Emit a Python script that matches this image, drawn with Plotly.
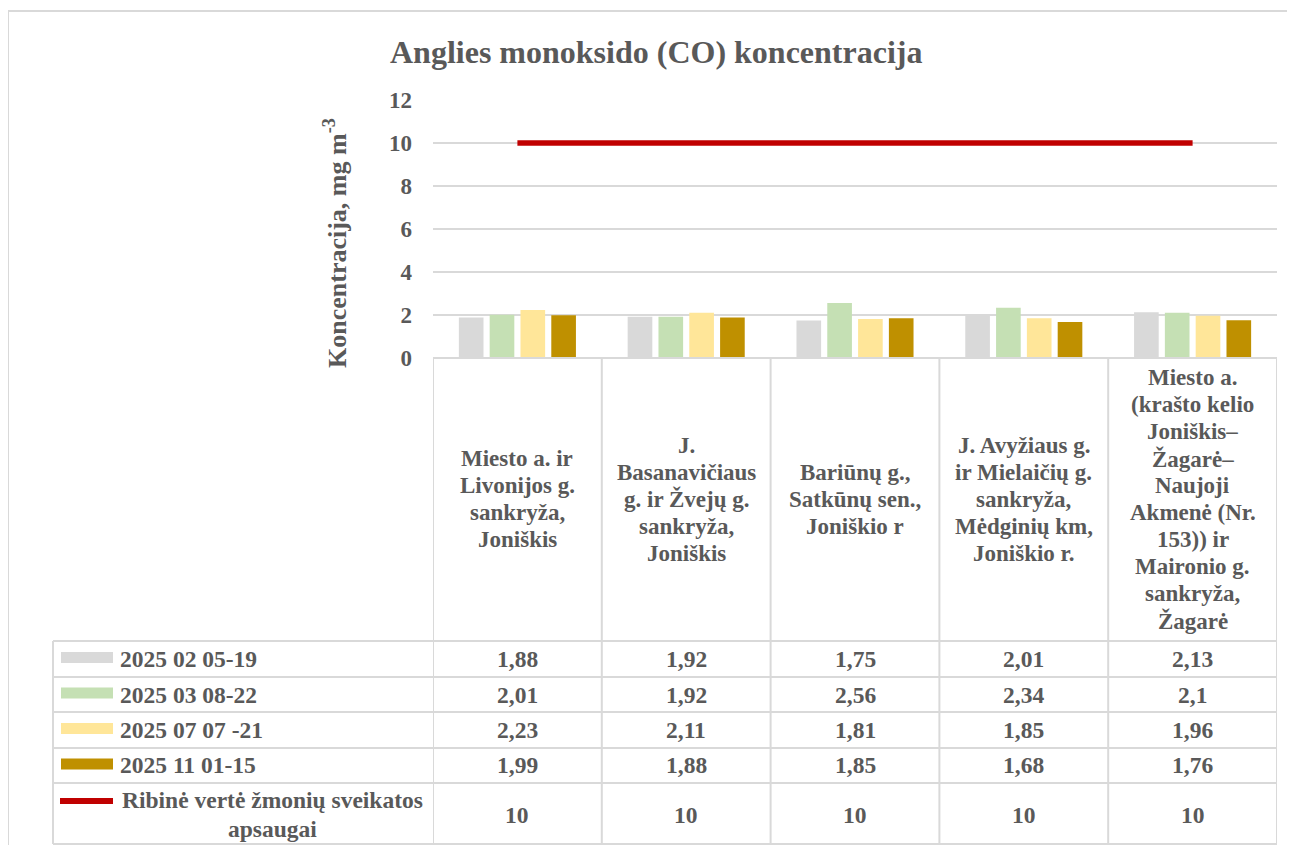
import plotly.graph_objects as go

# ---------------- data ----------------
categories = [
    "Miesto a. ir<br>Livonijos g.<br>sankryža,<br>Joniškis",
    "J.<br>Basanavičiaus<br>g. ir Žvejų g.<br>sankryža,<br>Joniškis",
    "Bariūnų g.,<br>Satkūnų sen.,<br>Joniškio r",
    "J. Avyžiaus g.<br>ir Mielaičių g.<br>sankryža,<br>Mėdginių km,<br>Joniškio r.",
    "Miesto a.<br>(krašto kelio<br>Joniškis–<br>Žagarė–<br>Naujoji<br>Akmenė (Nr.<br>153)) ir<br>Maironio g.<br>sankryža,<br>Žagarė",
]
series_names = ["2025 02 05-19", "2025 03 08-22", "2025 07 07 -21", "2025 11 01-15"]
feb = [1.88, 1.92, 1.75, 2.01, 2.13]
mar = [2.01, 1.92, 2.56, 2.34, 2.1]
jul = [2.23, 2.11, 1.81, 1.85, 1.96]
nov = [1.99, 1.88, 1.85, 1.68, 1.76]
limit_name = ["Ribinė vertė žmonių sveikatos", "apsaugai"]
limit = [10, 10, 10, 10, 10]
y_ticks = [0, 2, 4, 6, 8, 10, 12]
title_text = "Anglies monoksido (CO) koncentracija"
y_title = "Koncentracija, mg m<sup>-3</sup>"

series_values = [feb, mar, jul, nov]
series_colors = ["#d9d9d9", "#c5e0b4", "#ffe699", "#bf9000"]
limit_color = "#c00000"

# ---------------- layout helpers ----------------
OFF = 8                              # page body margin of the html page
W, H = 1295 - 2 * OFF, 853 - 2 * OFF  # keep the page from overflowing the window
PL, PR, PT, PB = 433, 1277, 100, 358  # plot area in page pixels


def px(x):
    return (x - PL) / (PR - PL)


def py(y):
    return (PB - y) / (PB - PT)


TXT = "#595959"
GRID = "#d9d9d9"
FONT = "Liberation Serif"


def fmt(v):
    return str(v).replace(".", ",")


fig = go.Figure()
for name, vals, col in zip(series_names, series_values, series_colors):
    fig.add_trace(go.Bar(x=categories, y=vals, name=name, marker=dict(color=col, line=dict(width=0))))
fig.add_trace(go.Scatter(x=categories, y=limit, mode="lines", name=" ".join(limit_name),
                         line=dict(color=limit_color, width=5.5)))

shapes = []
annotations = []

# outer chart frame (top and left visible)
shapes.append(dict(type="line", xref="paper", yref="paper", x0=px(8), x1=px(1300), y0=py(11), y1=py(11),
                   line=dict(color=GRID, width=2)))
shapes.append(dict(type="line", xref="paper", yref="paper", x0=px(8), x1=px(8), y0=py(11), y1=py(860),
                   line=dict(color=GRID, width=2)))

# data table grid
row_bounds = [641, 677, 712, 748, 783, 844]
for i in range(len(categories) + 1):
    shapes.append(dict(type="line", xref="x", yref="paper", x0=i - 0.5, x1=i - 0.5, y0=py(358),
                       y1=py(row_bounds[-1]), line=dict(color=GRID, width=2)))
shapes.append(dict(type="line", xref="paper", yref="paper", x0=px(53), x1=px(53), y0=py(641),
                   y1=py(row_bounds[-1]), line=dict(color=GRID, width=2)))
for yb in row_bounds:
    shapes.append(dict(type="line", xref="paper", yref="paper", x0=px(53), x1=1, y0=py(yb), y1=py(yb),
                       line=dict(color=GRID, width=2)))
shapes.append(dict(type="line", xref="paper", yref="paper", x0=0, x1=1, y0=py(358), y1=py(358),
                   line=dict(color=GRID, width=2)))

# category labels (one annotation per line)
for i, cat in enumerate(categories):
    lines = cat.split("<br>")
    n = len(lines)
    for k, ln in enumerate(lines):
        yc = 499 + (k - (n - 1) / 2) * 27
        annotations.append(dict(x=i, xref="x", y=py(yc), yref="paper", text=ln, showarrow=False,
                                xanchor="center", yanchor="middle",
                                font=dict(family=FONT, size=23, color=TXT, weight="bold")))

# table rows
row_centers = [659, 694.5, 730, 765.5, 814.5]
for r, (name, vals, col) in enumerate(zip(series_names, series_values, series_colors)):
    yc = row_centers[r]
    shapes.append(dict(type="rect", xref="paper", yref="paper", x0=px(61), x1=px(113),
                       y0=py(yc - 7), y1=py(yc + 4), fillcolor=col, line=dict(width=0)))
    annotations.append(dict(x=px(118), xref="paper", y=py(yc), yref="paper", text=name, showarrow=False,
                            xanchor="left", yanchor="middle",
                            font=dict(family=FONT, size=23.5, color=TXT, weight="bold")))
    for i, v in enumerate(vals):
        annotations.append(dict(x=i, xref="x", y=py(yc), yref="paper", text=fmt(v), showarrow=False,
                                xanchor="center", yanchor="middle",
                                font=dict(family=FONT, size=23.5, color=TXT, weight="bold")))

# limit row
yc = row_centers[4]
shapes.append(dict(type="line", xref="paper", yref="paper", x0=px(60), x1=px(113), y0=py(801), y1=py(801),
                   line=dict(color=limit_color, width=6)))
annotations.append(dict(x=px(272), xref="paper", y=py(800), yref="paper", text=limit_name[0], showarrow=False,
                        xanchor="center", yanchor="middle",
                        font=dict(family=FONT, size=23.5, color=TXT, weight="bold")))
annotations.append(dict(x=px(272), xref="paper", y=py(829), yref="paper", text=limit_name[1], showarrow=False,
                        xanchor="center", yanchor="middle",
                        font=dict(family=FONT, size=23.5, color=TXT, weight="bold")))
for i, v in enumerate(limit):
    annotations.append(dict(x=i, xref="x", y=py(yc), yref="paper", text=fmt(v), showarrow=False,
                            xanchor="center", yanchor="middle",
                            font=dict(family=FONT, size=23.5, color=TXT, weight="bold")))

# title and y-axis title
annotations.append(dict(x=px(656), xref="paper", y=py(52), yref="paper", text=title_text, showarrow=False,
                        xanchor="center", yanchor="middle",
                        font=dict(family=FONT, size=32, color=TXT, weight="bold")))
annotations.append(dict(x=px(335), xref="paper", y=py(243), yref="paper", text=y_title, showarrow=False,
                        textangle=-90, xanchor="center", yanchor="middle",
                        font=dict(family=FONT, size=26, color=TXT, weight="bold")))

fig.update_layout(
    width=W, height=H, autosize=False,
    margin=dict(l=PL - OFF, r=(W + OFF) - PR, t=PT - OFF, b=(H + OFF) - PB, pad=0),
    paper_bgcolor="white", plot_bgcolor="white",
    showlegend=False,
    barmode="group", bargap=0.27, bargroupgap=0.2,
    font=dict(family=FONT, color=TXT),
    shapes=shapes, annotations=annotations,
    xaxis=dict(type="category", range=[-0.5, len(categories) - 0.5], showticklabels=False,
               showgrid=False, zeroline=False, showline=False, fixedrange=True),
    yaxis=dict(range=[0, 12], tickvals=y_ticks, ticktext=[str(t) for t in y_ticks],
               showgrid=True, gridcolor=GRID, gridwidth=1.5, zeroline=False, showline=False,
               ticks="", ticklabelstandoff=20,
               tickfont=dict(family=FONT, size=23, color=TXT, weight="bold"), fixedrange=True),
)

fig.write_html("out.html")
